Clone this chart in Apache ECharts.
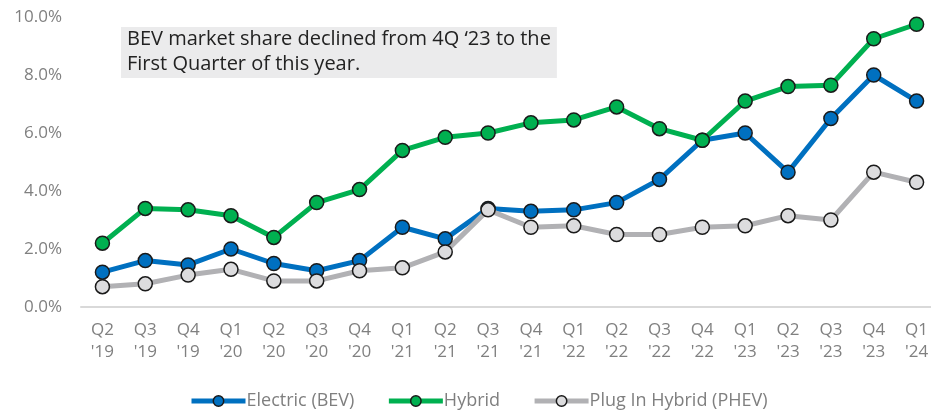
<!DOCTYPE html>
<html>
<head>
<meta charset="utf-8">
<script src="https://cdn.jsdelivr.net/npm/echarts@6/dist/echarts.min.js"></script>
<style>
  html, body { margin: 0; padding: 0; background: #fff; }
  #chart { width: 931px; height: 415px; }
</style>
</head>
<body>
<div id="chart"></div>
<script>
// quarter labels
const quarters = ["Q2","Q3","Q4","Q1","Q2","Q3","Q4","Q1","Q2","Q3","Q4","Q1","Q2","Q3","Q4","Q1","Q2","Q3","Q4","Q1"];
const years = ["'19","'19","'19","'20","'20","'20","'20","'21","'21","'21","'21","'22","'22","'22","'22","'23","'23","'23","'23","'24"];

// market share, %
const electric = [1.2, 1.6, 1.45, 2.0, 1.5, 1.25, 1.6, 2.75, 2.35, 3.4, 3.3, 3.35, 3.6, 4.4, 5.75, 6.0, 4.65, 6.5, 8.0, 7.1];
const hybrid = [2.2, 3.4, 3.35, 3.15, 2.4, 3.6, 4.05, 5.4, 5.85, 6.0, 6.35, 6.45, 6.9, 6.15, 5.75, 7.1, 7.6, 7.65, 9.25, 9.75];
const phev = [0.7, 0.8, 1.1, 1.3, 0.9, 0.9, 1.25, 1.35, 1.9, 3.35, 2.75, 2.8, 2.5, 2.5, 2.75, 2.8, 3.15, 3.0, 4.65, 4.3];

const categories = quarters.map((q, i) => q + "\n" + years[i]);
const note = "BEV market share declined from 4Q \u201823 to the\nFirst Quarter of this year.";

const font = "Open Sans";
const chart = echarts.init(document.getElementById("chart"));

function lineSeries(name, data, lineColor, fillColor) {
  return {
    name: name,
    type: "line",
    data: data,
    symbol: "circle",
    symbolSize: 14,
    lineStyle: { width: 5, color: lineColor },
    itemStyle: { color: fillColor, borderColor: "#1a1a1a", borderWidth: 1.5 },
    emphasis: { disabled: true },
    z: 2,
  };
}

chart.setOption({
  animation: false,
  textStyle: { fontFamily: font },
  title: {
    text: note,
    left: 121,
    top: 27,
    padding: [0, 6, 1, 6],
    backgroundColor: "#ebebec",
    textStyle: {
      fontFamily: font,
      fontSize: 20,
      fontWeight: "normal",
      color: "#222",
      lineHeight: 25,
    },
  },
  legend: {
    left: 187,
    top: 390,
    padding: 2,
    itemWidth: 54,
    itemHeight: 13,
    itemGap: 32,
    textStyle: { fontFamily: font, fontSize: 18, color: "#7f7f7f", padding: [0, 0, 0, -4] },
    lineStyle: { width: 5 },
    itemStyle: { borderWidth: 1.5, borderColor: "#1a1a1a" },
    data: ["Electric (BEV)", "Hybrid", "Plug In Hybrid (PHEV)"],
  },
  grid: {
    left: 81,
    width: 857,
    top: 17,
    height: 290,
    outerBoundsMode: "none",
    containLabel: false,
  },
  xAxis: {
    type: "category",
    data: categories,
    boundaryGap: true,
    axisLine: { lineStyle: { color: "#d9d9d9", width: 2 } },
    axisTick: { show: false },
    axisLabel: {
      color: "#808080",
      fontSize: 17,
      lineHeight: 22,
      margin: 12,
      interval: 0,
      fontFamily: font,
    },
  },
  yAxis: {
    type: "value",
    min: 0,
    max: 10,
    interval: 2,
    axisLine: { show: false },
    axisTick: { show: false },
    splitLine: { show: false },
    axisLabel: {
      color: "#808080",
      fontSize: 17,
      margin: 19,
      fontFamily: font,
      formatter: (v) => v.toFixed(1) + "%",
    },
  },
  series: [
    lineSeries("Electric (BEV)", electric, "#0070c0", "#0070c0"),
    lineSeries("Hybrid", hybrid, "#00b050", "#00b050"),
    lineSeries("Plug In Hybrid (PHEV)", phev, "#b1b1b4", "#dcdcde"),
  ],
});
</script>
</body>
</html>
